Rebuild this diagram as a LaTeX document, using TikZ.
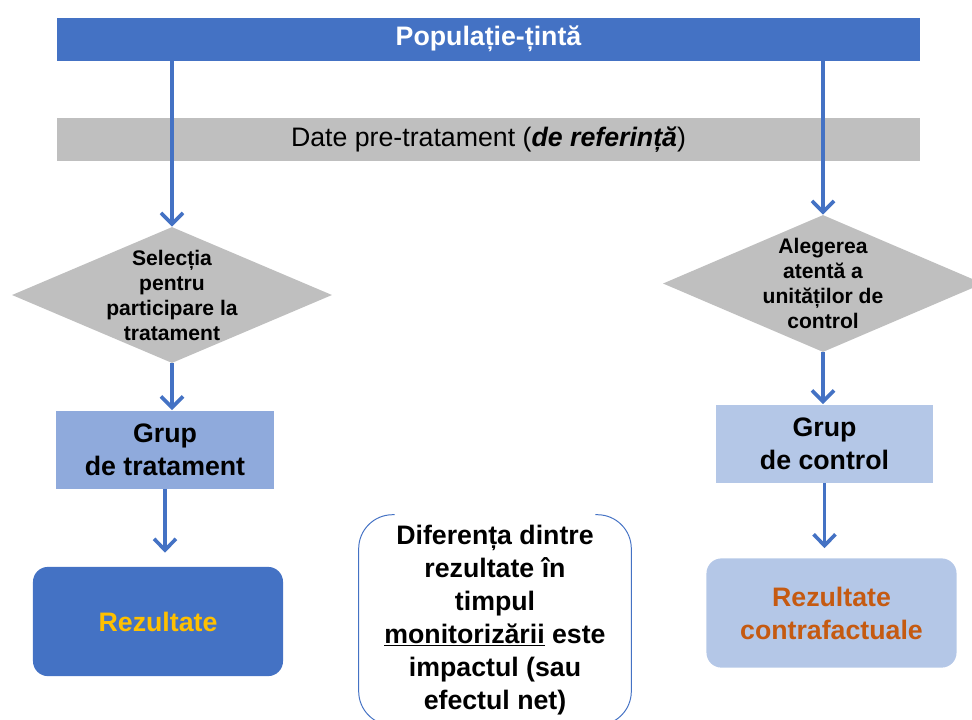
\documentclass[tikz,border=0pt]{standalone}
\usepackage{fontspec}
\setmainfont{Liberation Sans}
\usetikzlibrary{shapes,arrows.meta,positioning,calc}
\definecolor{albastru}{HTML}{4472C4}
\definecolor{albastruDeschis}{HTML}{8FAADC}
\definecolor{albastruPal}{HTML}{B4C7E7}
\definecolor{gri}{HTML}{BFBFBF}
\definecolor{galben}{HTML}{FFC000}
\definecolor{portocaliu}{HTML}{C55A11}
\newcommand\mare{\fontsize{19}{23.5}\selectfont}
\newcommand\mic{\fontsize{15}{17.8}\selectfont}

\begin{document}
\begin{tikzpicture}[x=0.025cm, y=-0.025cm,
		bara/.style={minimum width=21.575cm, minimum height=1.075cm, inner sep=0pt},
		decizie/.style={diamond, fill=gri, minimum width=8cm, minimum height=3.4cm, inner sep=0pt},
		grup/.style={minimum width=5.425cm, minimum height=1.95cm, align=center, font=\mare\bfseries},
		rez/.style={rounded corners=0.375cm, minimum width=6.25cm, minimum height=2.73cm, align=center, font=\mare\bfseries},
		sageata/.style={albastru, line width=2.6pt, -{Straight Barb[length=2.8mm,width=5.5mm]}}]
		\clip (0,0) rectangle (972,719);

		\node[bara, fill=albastru, text=white, font=\mare\bfseries] (pop) at (488.5,39) {Populație-țintă};
		\node[bara, fill=gri, font=\mare] (date) at (488.5,139.5) {Date pre-tratament (\textbf{\textit{de referință}})};

		\node[decizie] (sel) at (172,295) {};
		\node[align=center, font=\mic\bfseries] (selT) at (sel) {Selecția\\pentru\\participare la\\tratament};
		\node[decizie, minimum height=3.425cm] (ale) at (823,283.5) {};
		\node[align=center, font=\mic\bfseries] (aleT) at (ale) {Alegerea\\atentă a\\unităților de\\control};

		\node[grup, fill=albastruDeschis] (gT) at (165,449.5) {Grup\\de tratament};
		\node[grup, fill=albastruPal] (gC) at (824.5,443.5) {Grup\\de control};
		\node[rez, fill=albastru, text=galben] (rT) at (158,621.5) {Rezultate};
		\node[rez, fill=albastruPal, text=portocaliu] (rC) at (831.5,613) {Rezultate\\contrafactuale};

		\node[minimum width=6.8cm, minimum height=5.25cm, align=center, font=\mare\bfseries] (dif) at (495,620)
			{Diferența dintre\\rezultate în\\timpul\\\underline{monitorizării} este\\impactul (sau\\efectul net)};
		\draw[albastru, line width=0.7pt, rounded corners=0.85cm] ([xshift=0.9cm]dif.north west) -- (dif.north west) -- (dif.south west) -- ([xshift=0.9cm]dif.south west);
		\draw[albastru, line width=0.7pt, rounded corners=0.85cm] ([xshift=-0.9cm]dif.north east) -- (dif.north east) -- (dif.south east) -- ([xshift=-0.9cm]dif.south east);

		\draw[sageata] (pop.south -| sel.north) -- (sel.north);
		\draw[sageata] (pop.south -| ale.north) -- (ale.north);
		\draw[sageata] (sel.south) -- (sel.south |- gT.north);
		\draw[sageata] (ale.south) -- (ale.south |- gC.north);
		\draw[sageata, shorten >=0.35cm] (gT.south) -- (gT.south |- rT.north);
		\draw[sageata, shorten >=0.25cm] (gC.south) -- (gC.south |- rC.north);
	\end{tikzpicture}
\end{document}
